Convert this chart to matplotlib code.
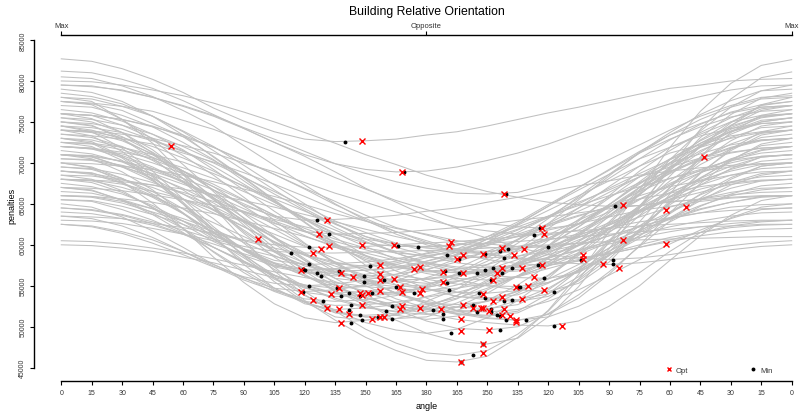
import matplotlib
matplotlib.use("Agg")
import matplotlib.pyplot as plt
from matplotlib.lines import Line2D
from matplotlib.ticker import FuncFormatter


# angle grid the penalty curves were sampled on (degrees)
angles = [0, 15, 30, 45, 60, 75, 90, 105, 120, 135, 150, 165, 180,
          195, 210, 225, 240, 255, 270, 285, 300, 315, 330, 345, 360]

angle_tick_labels = ["0", "15", "30", "45", "60", "75", "90", "105", "120", "135",
                     "150", "165", "180", "165", "150", "135", "120", "105", "90",
                     "75", "60", "45", "30", "15", "0"]

top_ticks = [0, 180, 360]
top_tick_labels = ["Max", "Opposite", "Max"]

# penalties (thousands) per building, one row per curve
penalty_curves = [
    [66.0, 65.8, 65.1, 64.0, 62.9, 61.6, 60.6, 60.0, 59.7, 59.7, 59.8, 60.0, 60.2, 60.4, 60.7, 61.0, 61.4, 61.7, 62.0, 62.3, 62.5, 62.7, 62.9, 63.0, 63.0],
    [64.5, 64.3, 63.7, 62.8, 61.8, 60.7, 59.8, 59.2, 59.0, 59.0, 59.1, 59.2, 59.3, 59.4, 59.6, 59.8, 60.0, 60.2, 60.4, 60.6, 60.7, 60.8, 60.9, 61.0, 61.0],
    [70.0, 69.5, 68.1, 66.2, 63.8, 61.4, 59.5, 58.1, 57.6, 57.7, 57.9, 58.3, 58.9, 59.5, 60.2, 61.0, 61.8, 62.6, 63.4, 64.2, 64.7, 65.3, 65.7, 65.9, 66.0],
    [68.0, 67.6, 66.4, 64.6, 62.5, 60.4, 58.7, 57.4, 57.0, 57.1, 57.5, 58.0, 59.0, 59.9, 61.0, 62.2, 63.5, 64.8, 66.0, 67.1, 68.1, 69.0, 69.5, 69.9, 70.0],
    [73.0, 72.4, 70.6, 68.0, 65.0, 61.9, 59.3, 57.5, 56.9, 57.0, 57.3, 57.8, 58.6, 59.3, 60.3, 61.3, 62.5, 63.6, 64.6, 65.6, 66.3, 67.1, 67.6, 67.9, 68.0],
    [62.5, 62.2, 61.4, 60.2, 58.8, 57.3, 56.1, 55.3, 55.0, 55.2, 55.7, 56.4, 57.6, 58.7, 60.3, 61.8, 63.5, 65.2, 66.7, 68.3, 69.5, 70.6, 71.3, 71.8, 72.0],
    [65.0, 64.6, 63.4, 61.7, 59.7, 57.6, 55.9, 54.7, 54.3, 54.5, 55.1, 56.0, 57.4, 58.9, 60.7, 62.6, 64.7, 66.7, 68.6, 70.5, 71.9, 73.3, 74.2, 74.8, 75.0],
    [74.5, 73.8, 71.8, 69.0, 65.6, 62.2, 59.3, 57.3, 56.6, 56.7, 56.9, 57.2, 57.8, 58.3, 59.1, 59.8, 60.6, 61.3, 62.1, 62.8, 63.3, 63.9, 64.2, 64.4, 64.5],
    [75.0, 74.5, 73.2, 71.3, 69.0, 66.7, 64.8, 63.5, 63.0, 63.1, 63.3, 63.6, 64.1, 64.5, 65.2, 65.8, 66.5, 67.2, 67.8, 68.5, 69.0, 69.4, 69.7, 69.9, 70.0],
    [69.0, 68.6, 67.5, 65.8, 63.8, 61.5, 59.4, 57.7, 56.6, 56.2, 56.4, 56.9, 58.0, 59.1, 60.7, 62.4, 64.2, 66.0, 67.8, 69.6, 71.2, 72.2, 73.3, 73.8, 74.0],
    [72.0, 71.7, 70.7, 69.3, 67.6, 65.7, 64.0, 62.6, 61.6, 61.3, 61.4, 61.5, 61.8, 62.1, 62.5, 63.0, 63.4, 63.9, 64.4, 64.8, 65.3, 65.5, 65.8, 66.0, 66.0],
    [76.0, 75.4, 73.7, 71.2, 68.1, 64.7, 61.6, 59.1, 57.4, 56.8, 56.9, 57.3, 58.0, 58.8, 59.9, 61.1, 62.3, 63.5, 64.7, 66.0, 67.1, 67.8, 68.5, 68.9, 69.0],
    [67.0, 66.6, 65.5, 63.9, 62.0, 59.7, 57.8, 56.2, 55.1, 54.7, 54.9, 55.6, 56.9, 58.3, 60.3, 62.5, 64.7, 67.0, 69.2, 71.4, 73.4, 74.8, 76.1, 76.8, 77.0],
    [71.0, 70.5, 68.9, 66.7, 63.9, 60.8, 58.0, 55.8, 54.2, 53.7, 53.8, 54.2, 54.8, 55.5, 56.5, 57.7, 58.8, 59.9, 61.1, 62.2, 63.2, 63.9, 64.6, 64.9, 65.0],
    [63.5, 63.2, 62.3, 60.9, 59.2, 57.4, 55.7, 54.4, 53.4, 53.1, 53.3, 53.8, 54.9, 56.0, 57.6, 59.4, 61.2, 63.0, 64.7, 66.5, 68.1, 69.2, 70.3, 70.8, 71.0],
    [72.5, 72.0, 70.3, 67.9, 65.0, 61.6, 58.7, 56.3, 54.7, 54.1, 54.3, 54.9, 56.0, 57.1, 58.8, 60.7, 62.6, 64.5, 66.4, 68.3, 70.0, 71.1, 72.2, 72.8, 73.0],
    [68.5, 68.0, 66.6, 64.5, 62.0, 59.1, 56.6, 54.5, 53.1, 52.6, 52.7, 53.0, 53.6, 54.2, 55.1, 56.1, 57.1, 58.1, 59.0, 60.0, 60.9, 61.5, 62.1, 62.4, 62.5],
    [74.0, 73.3, 71.4, 68.5, 65.0, 61.1, 57.6, 54.7, 52.8, 52.1, 52.3, 52.7, 53.7, 54.6, 56.1, 57.7, 59.3, 60.9, 62.4, 64.0, 65.5, 66.4, 67.4, 67.8, 68.0],
    [82.7, 82.4, 81.5, 80.2, 78.6, 76.7, 75.1, 73.8, 72.9, 72.6, 72.7, 72.9, 73.4, 73.8, 74.5, 75.3, 76.1, 76.8, 77.6, 78.4, 79.1, 79.5, 80.0, 80.2, 80.3],
    [70.0, 69.4, 67.7, 65.1, 62.0, 58.5, 55.4, 52.8, 51.1, 50.5, 50.8, 51.5, 53.1, 54.6, 56.9, 59.4, 62.0, 64.5, 67.1, 69.6, 71.9, 73.5, 75.0, 75.8, 76.0],
    [65.5, 65.3, 64.3, 63.0, 61.4, 59.7, 57.9, 56.3, 55.0, 54.0, 53.8, 54.0, 55.0, 56.5, 58.4, 60.6, 63.2, 65.9, 68.6, 71.2, 73.4, 75.3, 76.8, 77.8, 78.0],
    [75.0, 74.6, 72.9, 70.6, 67.7, 64.6, 61.4, 58.5, 56.2, 54.5, 54.1, 54.2, 54.8, 55.5, 56.6, 57.7, 59.1, 60.6, 62.0, 63.4, 64.6, 65.6, 66.4, 66.9, 67.0],
    [67.0, 66.7, 65.4, 63.7, 61.5, 59.2, 56.9, 54.7, 53.0, 51.7, 51.4, 51.6, 52.5, 53.8, 55.5, 57.5, 59.8, 62.2, 64.6, 67.0, 68.9, 70.6, 71.9, 72.8, 73.0],
    [73.0, 72.6, 70.8, 68.3, 65.2, 61.9, 58.6, 55.5, 53.0, 51.2, 50.8, 51.0, 51.8, 52.9, 54.5, 56.2, 58.3, 60.4, 62.5, 64.6, 66.4, 67.9, 69.0, 69.8, 70.0],
    [78.0, 77.5, 75.3, 72.4, 68.6, 64.6, 60.6, 56.8, 53.9, 51.7, 51.2, 51.4, 52.4, 53.8, 55.7, 57.9, 60.5, 63.1, 65.7, 68.3, 70.5, 72.4, 73.8, 74.8, 75.0],
    [71.0, 70.7, 69.6, 68.1, 66.2, 64.2, 62.2, 60.3, 58.8, 57.7, 57.4, 57.6, 58.4, 59.5, 61.0, 62.8, 64.9, 67.0, 69.1, 71.2, 72.9, 74.4, 75.6, 76.3, 76.5],
    [64.0, 63.8, 63.2, 62.4, 61.3, 60.1, 58.9, 57.8, 57.0, 56.4, 56.2, 56.4, 57.0, 57.9, 59.2, 60.6, 62.4, 64.1, 65.8, 67.6, 69.0, 70.3, 71.2, 71.8, 72.0],
    [77.5, 77.1, 75.3, 72.9, 69.8, 66.5, 63.2, 60.1, 57.7, 55.9, 55.5, 55.6, 55.9, 56.3, 56.9, 57.6, 58.4, 59.3, 60.1, 60.9, 61.6, 62.2, 62.6, 62.9, 63.0],
    [69.5, 69.2, 68.1, 66.5, 64.4, 61.9, 59.5, 57.0, 54.9, 53.3, 52.3, 51.9, 52.2, 53.4, 55.2, 57.4, 59.9, 62.9, 66.0, 69.0, 71.5, 73.7, 75.5, 76.8, 77.0],
    [75.5, 75.0, 73.7, 71.6, 68.8, 65.6, 62.4, 59.2, 56.4, 54.3, 53.0, 52.5, 52.7, 53.5, 54.7, 56.2, 57.9, 60.0, 62.0, 64.1, 65.8, 67.3, 68.5, 69.3, 69.5],
    [62.5, 62.3, 61.6, 60.6, 59.2, 57.6, 56.0, 54.3, 53.0, 51.9, 51.2, 51.0, 51.2, 52.4, 54.1, 56.2, 58.5, 61.3, 64.2, 67.0, 69.3, 71.5, 73.1, 74.3, 74.5],
    [68.0, 67.8, 67.0, 65.9, 64.4, 62.7, 61.0, 59.3, 57.8, 56.7, 56.0, 55.7, 55.8, 56.2, 56.8, 57.5, 58.4, 59.4, 60.4, 61.3, 62.2, 62.9, 63.5, 63.9, 64.0],
    [73.5, 73.1, 72.0, 70.3, 68.1, 65.5, 62.9, 60.3, 58.1, 56.4, 55.3, 54.9, 55.1, 56.4, 58.0, 60.2, 62.6, 65.5, 68.4, 71.3, 73.7, 75.9, 77.6, 78.8, 79.0],
    [79.0, 78.6, 77.5, 75.7, 73.4, 70.7, 68.1, 65.4, 63.1, 61.3, 60.2, 59.8, 59.8, 60.0, 60.2, 60.4, 60.7, 61.0, 61.3, 61.6, 61.9, 62.2, 62.3, 62.5, 62.5],
    [81.2, 81.0, 80.2, 79.1, 77.6, 75.9, 74.2, 72.5, 71.0, 69.9, 69.2, 68.9, 69.0, 69.5, 70.3, 71.2, 72.3, 73.6, 74.8, 76.1, 77.2, 78.1, 78.9, 79.4, 79.5],
    [66.5, 66.3, 65.5, 64.4, 62.9, 61.2, 59.4, 57.7, 56.2, 55.1, 54.4, 54.1, 54.3, 55.1, 56.3, 57.8, 59.5, 61.5, 63.6, 65.6, 67.3, 68.8, 70.0, 70.8, 71.0],
    [78.5, 78.1, 77.2, 75.7, 73.8, 71.5, 69.1, 66.7, 64.4, 62.5, 61.0, 60.1, 59.7, 60.0, 60.7, 61.9, 63.3, 65.0, 66.9, 68.7, 70.4, 71.9, 73.0, 73.7, 74.0],
    [71.5, 71.1, 70.1, 68.6, 66.7, 64.3, 61.8, 59.3, 57.0, 55.0, 53.5, 52.5, 52.1, 52.4, 53.1, 54.3, 55.8, 57.6, 59.6, 61.5, 63.3, 64.8, 66.0, 66.7, 67.0],
    [64.5, 64.2, 63.6, 62.6, 61.3, 59.7, 58.0, 56.3, 54.8, 53.5, 52.4, 51.8, 51.5, 52.0, 53.2, 55.1, 57.5, 60.4, 63.5, 66.6, 69.5, 71.9, 73.8, 75.0, 75.5],
    [74.5, 74.0, 72.9, 71.0, 68.6, 65.8, 62.7, 59.6, 56.8, 54.4, 52.6, 51.4, 50.9, 51.3, 52.4, 54.1, 56.2, 58.7, 61.5, 64.2, 66.7, 68.8, 70.5, 71.6, 72.0],
    [72.0, 71.7, 71.1, 70.0, 68.7, 67.1, 65.4, 63.6, 62.0, 60.7, 59.6, 59.0, 58.7, 59.1, 60.0, 61.5, 63.4, 65.7, 68.1, 70.5, 72.8, 74.7, 76.2, 77.1, 77.5],
    [76.5, 76.1, 75.1, 73.5, 71.6, 69.2, 66.7, 64.1, 61.7, 59.8, 58.2, 57.2, 56.8, 57.0, 57.6, 58.6, 59.7, 61.1, 62.7, 64.2, 65.6, 66.8, 67.7, 68.3, 68.5],
    [69.0, 68.7, 68.0, 67.0, 65.6, 63.9, 62.2, 60.4, 58.7, 57.4, 56.3, 55.6, 55.3, 55.6, 56.4, 57.7, 59.4, 61.3, 63.4, 65.5, 67.5, 69.1, 70.4, 71.2, 71.5],
    [60.5, 60.4, 60.1, 59.6, 59.0, 58.3, 57.5, 56.7, 56.0, 55.4, 54.9, 54.6, 54.5, 54.7, 55.3, 56.2, 57.4, 58.8, 60.3, 61.8, 63.1, 64.3, 65.2, 65.8, 66.0],
    [67.5, 67.1, 66.2, 64.8, 62.9, 60.7, 58.4, 56.0, 53.8, 52.0, 50.5, 49.6, 49.2, 49.7, 51.1, 53.2, 55.9, 59.1, 62.6, 66.1, 69.3, 72.0, 74.1, 75.5, 76.0],
    [74.0, 73.8, 73.1, 72.0, 70.6, 69.0, 67.1, 65.2, 63.3, 61.8, 60.3, 59.2, 58.5, 58.3, 58.6, 59.5, 60.8, 62.6, 64.6, 66.7, 68.7, 70.5, 71.8, 72.7, 73.0],
    [70.5, 70.4, 69.7, 68.7, 67.4, 66.1, 64.4, 62.7, 61.1, 59.7, 58.4, 57.4, 56.7, 56.6, 56.7, 57.0, 57.5, 58.2, 58.9, 59.7, 60.4, 61.1, 61.6, 61.9, 62.0],
    [76.0, 75.8, 74.6, 73.0, 70.9, 68.5, 65.8, 63.0, 60.2, 57.8, 55.7, 54.1, 52.9, 52.7, 53.1, 54.4, 56.3, 58.9, 61.9, 64.8, 67.8, 70.4, 72.3, 73.6, 74.0],
    [71.0, 70.8, 69.5, 67.8, 65.6, 63.2, 60.2, 57.3, 54.3, 51.9, 49.7, 48.0, 46.8, 46.5, 47.1, 49.1, 51.9, 55.8, 60.3, 64.7, 69.2, 73.1, 75.9, 77.9, 78.5],
    [69.0, 68.8, 67.6, 66.0, 63.9, 61.5, 58.8, 56.0, 53.2, 50.8, 48.7, 47.1, 45.9, 45.7, 46.4, 48.7, 52.0, 56.4, 61.6, 66.7, 71.9, 76.3, 79.7, 81.9, 82.6],
    [65.5, 65.4, 64.7, 63.7, 62.5, 61.1, 59.5, 57.8, 56.2, 54.8, 53.6, 52.6, 51.9, 51.8, 52.1, 53.2, 54.7, 56.8, 59.2, 61.6, 64.0, 66.1, 67.6, 68.7, 69.0],
    [72.5, 72.3, 71.6, 70.4, 69.0, 67.4, 65.5, 63.6, 61.7, 60.1, 58.7, 57.6, 56.8, 56.6, 57.0, 58.2, 59.9, 62.2, 64.9, 67.7, 70.4, 72.7, 74.5, 75.6, 76.0],
    [75.5, 75.3, 74.6, 73.5, 72.0, 70.3, 68.3, 66.2, 64.2, 62.1, 60.4, 59.0, 57.8, 57.1, 56.9, 57.3, 58.9, 61.1, 63.9, 67.0, 70.0, 72.8, 75.0, 76.6, 77.0],
    [68.5, 68.4, 67.9, 67.3, 66.4, 65.3, 64.1, 62.9, 61.6, 60.4, 59.4, 58.4, 57.8, 57.3, 57.2, 57.5, 58.5, 60.0, 61.9, 63.9, 65.9, 67.7, 69.2, 70.2, 70.5],
    [80.5, 80.3, 79.4, 78.1, 76.4, 74.5, 72.1, 69.7, 67.3, 65.0, 63.0, 61.3, 60.0, 59.1, 58.9, 59.2, 60.6, 62.5, 64.9, 67.5, 70.0, 72.4, 74.3, 75.7, 76.0],
    [71.0, 70.9, 70.2, 69.3, 68.1, 66.7, 65.0, 63.4, 61.7, 60.0, 58.6, 57.4, 56.5, 55.9, 55.7, 56.1, 57.5, 59.4, 61.9, 64.6, 67.3, 69.8, 71.7, 73.1, 73.5],
    [63.0, 62.9, 62.6, 62.0, 61.3, 60.5, 59.5, 58.6, 57.6, 56.6, 55.8, 55.1, 54.6, 54.2, 54.1, 54.4, 55.4, 56.9, 58.8, 60.8, 62.8, 64.7, 66.2, 67.2, 67.5],
    [77.0, 76.8, 75.8, 74.4, 72.5, 70.4, 67.8, 65.3, 62.7, 60.1, 58.0, 56.1, 54.7, 53.7, 53.5, 53.9, 55.3, 57.2, 59.6, 62.3, 64.9, 67.3, 69.3, 70.7, 71.0],
    [69.5, 69.3, 68.6, 67.6, 66.2, 64.7, 62.8, 60.9, 59.0, 57.0, 55.5, 54.1, 53.1, 52.4, 52.2, 52.7, 54.5, 57.0, 60.2, 63.6, 67.0, 70.2, 72.7, 74.5, 75.0],
    [73.0, 72.8, 71.9, 70.7, 69.0, 67.1, 64.7, 62.4, 60.1, 57.7, 55.8, 54.1, 52.9, 52.0, 51.8, 52.1, 53.1, 54.5, 56.3, 58.2, 60.1, 61.8, 63.2, 64.3, 64.5],
    [66.0, 65.9, 65.3, 64.4, 63.2, 61.9, 60.3, 58.7, 57.1, 55.5, 54.2, 53.0, 52.1, 51.6, 51.4, 51.9, 54.0, 56.9, 60.5, 64.5, 68.4, 72.0, 74.9, 77.0, 77.5],
    [72.0, 71.8, 70.9, 69.5, 67.7, 65.7, 63.3, 60.8, 58.3, 55.9, 53.9, 52.1, 50.7, 49.8, 49.6, 50.0, 51.6, 53.9, 56.7, 59.8, 62.9, 65.7, 68.0, 69.6, 70.0],
    [74.0, 73.7, 72.7, 71.1, 69.0, 66.7, 63.8, 61.0, 58.1, 55.2, 52.9, 50.8, 49.2, 48.2, 47.9, 48.6, 51.2, 54.9, 59.5, 64.5, 69.5, 74.1, 77.8, 80.4, 81.1],
    [78.0, 77.8, 76.9, 75.7, 73.9, 72.0, 69.7, 67.3, 65.0, 62.6, 60.7, 59.0, 57.7, 56.8, 56.6, 56.8, 57.7, 59.0, 60.6, 62.3, 64.0, 65.6, 66.9, 67.8, 68.0],
    [67.0, 66.9, 66.6, 66.1, 65.5, 64.8, 64.0, 63.1, 62.2, 61.4, 60.7, 60.1, 59.6, 59.3, 59.2, 59.5, 60.8, 62.6, 64.9, 67.4, 69.8, 72.1, 73.9, 75.2, 75.5],
    [74.5, 74.3, 73.7, 72.7, 71.4, 70.0, 68.2, 66.5, 64.7, 62.9, 61.5, 60.2, 59.2, 58.6, 58.4, 58.6, 59.2, 60.0, 61.1, 62.2, 63.3, 64.4, 65.2, 65.9, 66.0],
    [79.5, 79.4, 78.8, 78.0, 77.0, 75.8, 74.3, 72.9, 71.4, 69.9, 68.7, 67.7, 66.9, 66.3, 66.2, 66.4, 67.4, 68.7, 70.4, 72.2, 74.0, 75.7, 77.0, 78.0, 78.2],
    [70.5, 70.3, 69.5, 68.4, 66.9, 65.1, 63.0, 60.9, 58.8, 56.7, 55.0, 53.4, 52.3, 51.5, 51.3, 51.7, 53.4, 55.8, 58.7, 61.9, 65.1, 68.1, 70.4, 72.1, 72.5],
    [72.5, 72.4, 71.9, 71.0, 70.1, 68.7, 67.2, 65.6, 64.1, 62.6, 61.0, 59.7, 58.7, 57.8, 57.4, 57.2, 57.9, 59.9, 62.8, 66.3, 70.4, 73.9, 76.8, 78.8, 79.5],
    [76.0, 75.8, 75.3, 74.4, 73.4, 71.9, 70.2, 68.6, 66.9, 65.3, 63.6, 62.1, 61.2, 60.2, 59.7, 59.5, 59.9, 60.9, 62.4, 64.2, 66.3, 68.1, 69.6, 70.7, 71.0],
    [68.0, 67.9, 67.4, 66.5, 65.6, 64.3, 62.8, 61.3, 59.8, 58.3, 56.8, 55.5, 54.6, 53.7, 53.3, 53.1, 53.7, 55.6, 58.3, 61.7, 65.4, 68.8, 71.5, 73.4, 74.0],
    [75.0, 74.8, 74.1, 72.8, 71.5, 69.6, 67.4, 65.2, 63.1, 60.9, 58.7, 56.8, 55.5, 54.2, 53.5, 53.3, 54.0, 56.1, 59.1, 62.8, 67.0, 70.7, 73.7, 75.8, 76.5],
    [63.5, 63.4, 63.2, 62.6, 62.1, 61.4, 60.5, 59.6, 58.8, 57.9, 57.1, 56.3, 55.8, 55.2, 55.0, 54.9, 55.4, 56.7, 58.7, 61.1, 63.8, 66.2, 68.2, 69.6, 70.0],
    [71.0, 70.8, 70.2, 69.0, 67.8, 66.0, 63.9, 61.9, 59.9, 57.9, 55.9, 54.0, 52.8, 51.6, 51.0, 50.8, 51.5, 53.5, 56.4, 59.9, 63.9, 67.5, 70.3, 72.3, 73.0],
    [77.5, 77.2, 76.4, 74.8, 73.2, 70.8, 68.2, 65.5, 62.8, 60.2, 57.5, 55.1, 53.5, 51.9, 51.1, 50.8, 51.2, 52.5, 54.4, 56.6, 59.2, 61.5, 63.3, 64.6, 65.0],
    [74.0, 73.9, 73.5, 73.0, 72.1, 71.2, 70.0, 68.9, 67.6, 66.3, 65.2, 64.0, 63.1, 62.2, 61.7, 61.3, 61.2, 61.8, 63.6, 66.1, 69.1, 72.1, 74.6, 76.4, 77.0],
    [77.5, 77.3, 76.9, 76.3, 75.2, 74.1, 72.7, 71.3, 69.8, 68.2, 66.8, 65.4, 64.3, 63.2, 62.6, 62.2, 62.0, 62.5, 64.0, 66.2, 68.8, 71.3, 73.5, 75.0, 75.5],
    [70.0, 69.9, 69.6, 69.2, 68.5, 67.7, 66.8, 65.9, 64.9, 63.8, 62.9, 62.0, 61.3, 60.5, 60.1, 59.8, 59.7, 60.2, 61.6, 63.5, 65.9, 68.2, 70.2, 71.5, 72.0],
    [76.0, 75.8, 75.3, 74.5, 73.2, 71.9, 70.3, 68.6, 66.8, 64.9, 63.2, 61.6, 60.3, 59.0, 58.2, 57.7, 57.5, 58.0, 59.2, 61.1, 63.3, 65.4, 67.3, 68.5, 69.0],
    [66.0, 65.9, 65.6, 65.2, 64.5, 63.8, 62.9, 62.0, 61.0, 59.9, 59.0, 58.1, 57.4, 56.7, 56.3, 56.0, 55.9, 56.6, 58.7, 61.7, 65.2, 68.7, 71.7, 73.8, 74.5],
    [72.0, 71.8, 71.3, 70.6, 69.4, 68.1, 66.5, 64.9, 63.2, 61.4, 59.8, 58.2, 57.0, 55.7, 55.0, 54.5, 54.3, 55.3, 57.9, 61.7, 66.2, 70.7, 74.5, 77.1, 78.0],
    [60.0, 59.9, 59.6, 59.2, 58.5, 57.8, 56.9, 56.0, 55.1, 54.1, 53.2, 52.3, 51.6, 50.9, 50.5, 50.2, 50.1, 50.7, 52.5, 55.0, 58.1, 61.1, 63.6, 65.4, 66.0],
    [73.5, 73.3, 72.9, 72.3, 71.2, 70.1, 68.8, 67.4, 65.9, 64.3, 62.9, 61.6, 60.5, 59.4, 58.8, 58.4, 58.2, 58.4, 58.9, 59.7, 60.6, 61.5, 62.3, 62.8, 63.0],
    [79.5, 79.3, 78.9, 78.0, 76.9, 75.7, 74.2, 72.5, 70.8, 68.9, 66.9, 65.2, 63.5, 62.0, 60.8, 59.7, 58.8, 58.4, 58.2, 58.4, 58.8, 59.4, 59.9, 60.3, 60.5],
    [68.0, 67.9, 67.7, 67.3, 66.8, 66.1, 65.4, 64.6, 63.7, 62.8, 61.9, 61.0, 60.2, 59.5, 58.9, 58.3, 57.9, 57.7, 57.6, 57.8, 58.2, 58.8, 59.4, 59.8, 60.0],
    [80.0, 79.9, 79.5, 78.9, 78.2, 77.3, 76.2, 75.0, 73.7, 72.4, 71.0, 69.8, 68.5, 67.5, 66.5, 65.8, 65.2, 64.9, 64.7, 64.8, 65.2, 65.6, 66.1, 66.4, 66.5],
]

# best orientation found by the optimiser (Opt) and true curve minimum (Min)
opt_angle = [54, 97, 148, 168, 218, 317, 131, 127, 132, 128, 124, 118, 138, 144, 148, 164,
             157, 157, 157, 164, 167, 168, 118, 137, 133, 147, 148, 151, 157, 124, 131, 137,
             142, 148, 153, 157, 159, 138, 167, 168, 192, 191, 198, 195, 208, 217, 228, 223,
             237, 238, 237, 227, 217, 215, 198, 188, 174, 177, 233, 213, 188, 230, 224, 238,
             178, 177, 208, 217, 227, 213, 198, 177, 187, 203, 207, 208, 211, 218, 217, 221,
             224, 224, 197, 197, 211, 208, 208, 197, 247, 277, 298, 308, 277, 298, 257, 257,
             267, 275]
opt_value = [72.1, 60.7, 72.7, 68.9, 66.2, 70.7, 63.0, 61.3, 59.8, 59.5, 59.0, 56.9, 56.5, 56.1, 60.0, 60.0,
             57.5, 56.4, 55.7, 55.8, 54.9, 54.2, 54.3, 54.7, 54.0, 54.1, 53.9, 54.1, 54.4, 53.3, 52.3, 52.2,
             51.6, 52.7, 51.0, 51.2, 51.2, 50.5, 52.2, 52.5, 60.4, 59.9, 58.7, 58.3, 58.9, 59.6, 59.5, 58.7,
             62.0, 61.3, 57.5, 57.2, 57.2, 56.6, 56.6, 56.7, 57.1, 57.3, 56.1, 55.7, 55.4, 55.0, 54.9, 54.5,
             54.6, 54.1, 54.0, 53.6, 53.4, 53.1, 52.7, 52.3, 52.2, 52.3, 52.3, 52.3, 51.9, 52.2, 51.4, 51.3,
             50.8, 50.6, 51.0, 49.5, 49.6, 47.9, 46.8, 45.7, 50.1, 64.8, 64.3, 64.6, 60.6, 60.1, 58.7, 58.3,
             57.6, 57.2]

min_angle = [140, 169, 219, 126, 132, 122, 113, 122, 119, 120, 126, 128, 137, 122, 136, 119,
             142, 138, 129, 147, 153, 143, 142, 147, 148, 143, 156, 160, 163, 163, 152, 149,
             149, 159, 165, 166, 176, 190, 196, 189, 196, 205, 209, 213, 217, 222, 209, 216,
             220, 218, 233, 236, 240, 235, 238, 212, 190, 191, 174, 206, 209, 218, 222, 225,
             226, 243, 183, 188, 188, 203, 205, 212, 212, 215, 216, 219, 229, 192, 216, 243,
             203, 208, 197, 273, 256, 272, 272]
min_value = [72.6, 68.9, 66.2, 63.0, 61.3, 59.7, 59.0, 57.6, 57.0, 56.9, 56.6, 56.2, 56.8, 55.0, 54.7, 54.3,
             54.1, 53.7, 53.1, 53.8, 54.1, 52.6, 52.1, 51.4, 50.8, 50.5, 51.2, 51.9, 52.5, 51.0, 57.4, 56.2,
             55.5, 55.7, 54.9, 59.8, 59.7, 58.7, 58.3, 56.8, 56.6, 56.6, 56.9, 57.2, 56.6, 57.2, 58.9, 59.2,
             59.5, 58.4, 61.2, 62.0, 59.7, 57.5, 55.9, 55.7, 55.3, 54.5, 54.1, 54.1, 53.5, 53.1, 53.3, 54.9,
             54.8, 54.3, 52.1, 51.5, 50.9, 52.7, 51.8, 52.2, 51.8, 51.4, 51.3, 50.8, 50.8, 49.2, 49.6, 50.1,
             46.5, 47.9, 45.7, 64.7, 58.2, 58.2, 57.6]


plt.rcParams["font.family"] = ["Liberation Sans", "DejaVu Sans"]

W, H = 803, 414
fig = plt.figure(figsize=(W / 100, H / 100), dpi=100)
# axes box in pixels: x 34..800, y 36..382 (from top)
ax = fig.add_axes([34 / W, (H - 382) / H, (800 - 34) / W, (382 - 36) / H])

for curve in penalty_curves:
    ax.plot(angles, curve, color="#c0c0c0", lw=0.75, solid_joinstyle="round", zorder=1)

ax.plot(min_angle, min_value, "o", color="black", ms=2.8, mew=0, zorder=3)
ax.plot(opt_angle, opt_value, "x", color="red", ms=4, mew=1.0, zorder=4)

ax.set_xlim(-13.45, 364.1)
ax.set_ylim(43.376, 85.61)

for side in ("top", "right"):
    ax.spines[side].set_visible(False)
ax.spines["left"].set_bounds(45, 85)
ax.spines["bottom"].set_bounds(0, 360)
for side in ("left", "bottom"):
    ax.spines[side].set_linewidth(1.0)

ax.set_xticks(angles)
ax.set_xticklabels(angle_tick_labels)
ax.set_yticks([45, 50, 55, 60, 65, 70, 75, 80, 85])
ax.yaxis.set_major_formatter(FuncFormatter(lambda v, _: f"{int(round(v * 1000))}"))
ax.tick_params(axis="both", direction="out", length=3, width=0.8,
               labelsize=5, colors="black", labelcolor="#333333", pad=2.5)
ax.tick_params(axis="y", labelrotation=90)
for lbl in ax.get_yticklabels():
    lbl.set_va("center")

ax.set_xlabel("angle", fontsize=6.5)
ax.xaxis.set_label_coords(0.5124, -0.058)
ax.set_ylabel("penalties", fontsize=6.5)
ax.yaxis.set_label_coords(-0.0235, 0.51)

# upper orientation axis
ax_top = ax.twiny()
ax_top.set_xlim(ax.get_xlim())
for side in ("bottom", "left", "right"):
    ax_top.spines[side].set_visible(False)
ax_top.spines["top"].set_bounds(0, 360)
ax_top.spines["top"].set_linewidth(1.0)
ax_top.set_xticks(top_ticks)
ax_top.set_xticklabels(top_tick_labels)
ax_top.tick_params(axis="x", direction="out", length=3, width=0.8,
                   labelsize=5.5, labelcolor="#333333", pad=1.5)

fig.text(426.5 / W, 1 - 12 / H, "Building Relative Orientation",
         ha="center", va="center", fontsize=8.8)

handles = [
    Line2D([], [], ls="none", marker="x", color="red", ms=3.5, mew=1.0),
    Line2D([], [], ls="none", marker="o", color="black", ms=2.8, mew=0),
]
ax.legend(handles, ["Opt", "Min"], ncol=2, frameon=False, fontsize=5.5,
          handlelength=1.0, handletextpad=0.4, columnspacing=8.0,
          loc="center", bbox_to_anchor=(719 / W, 1 - 371 / H),
          bbox_transform=fig.transFigure, labelcolor="#333333")

fig.savefig("out.png", dpi=100)
